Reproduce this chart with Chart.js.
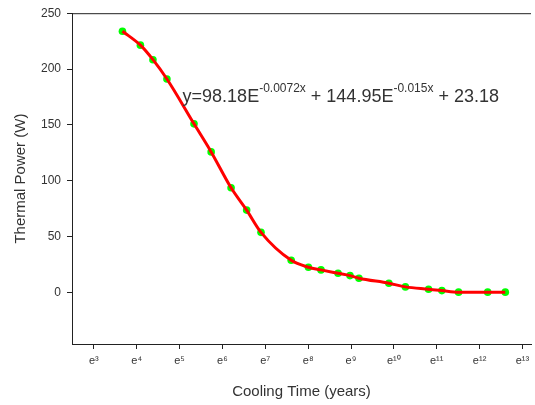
<!DOCTYPE html>
<html><head><meta charset="utf-8">
<script src="https://cdn.jsdelivr.net/npm/chart.js@4.4.0/dist/chart.umd.min.js"></script>
<style>html,body{margin:0;padding:0;background:#fff;} #wrap{width:535px;height:405px;position:relative;}</style>
</head><body><div id="wrap"><canvas id="c" width="535" height="405"></canvas></div>
<script>
// Cooling time as natural-log exponent (t = e^x years)
const coolingTimeExp = [3.667,4.086,4.379,4.705,5.337,5.737,6.202,6.565,6.9,7.605,8.007,8.3,8.698,8.977,9.186,9.884,10.27,10.81,11.12,11.51,12.19,12.6];
const thermalPower = [233.9,221.4,208.4,191.1,151.0,125.9,93.8,73.8,53.9,28.9,22.7,20.3,17.3,15.2,12.9,8.4,5.1,3.0,1.8,0.4,0.4,0.4];
const xTickExps = [3,4,5,6,7,8,9,10,11,12,13];
const xTickLabels = ['e³','e⁴','e⁵','e⁶','e⁷','e⁸','e⁹','e¹⁰','e¹¹','e¹²','e¹³'];
const yTickValues = [0,50,100,150,200,250];
const fitLabelParts = [
  ['y=98.18E', false], ['-0.0072x', true], [' + 144.95E', false], ['-0.015x', true], [' + 23.18', false]
];
const fitLabelAnchor = {x: 5.07, y: 170.5};

const FONT = "'Liberation Sans', Arial, sans-serif";
const AXIS = '#222';
const TEXT = '#333';

const pts = coolingTimeExp.map((x, i) => ({x: x, y: thermalPower[i]}));

const extras = {
  id: 'extras',
  afterDraw(chart) {
    const ctx = chart.ctx;
    const a = chart.chartArea;
    ctx.save();
    ctx.strokeStyle = AXIS;
    ctx.lineWidth = 1;
    ctx.beginPath();
    ctx.moveTo(a.left, a.top + 0.5);
    ctx.lineTo(a.right, a.top + 0.5);
    ctx.stroke();
    const xs = chart.scales.x, ys = chart.scales.y;
    let px = xs.getPixelForValue(fitLabelAnchor.x);
    const py = ys.getPixelForValue(fitLabelAnchor.y);
    ctx.fillStyle = TEXT;
    ctx.textBaseline = 'alphabetic';
    ctx.textAlign = 'left';
    for (const [txt, sup] of fitLabelParts) {
      ctx.font = (sup ? '12px ' : '18px ') + FONT;
      ctx.fillText(txt, px, sup ? py - 10 : py);
      px += ctx.measureText(txt).width;
    }
    ctx.restore();
  }
};

new Chart(document.getElementById('c'), {
  type: 'scatter',
  data: {
    datasets: [
      {
        label: 'fit',
        data: pts,
        showLine: true,
        borderColor: '#ff0000',
        borderWidth: 3,
        pointRadius: 0,
        cubicInterpolationMode: 'monotone',
        fill: false
      },
      {
        label: 'data',
        data: pts,
        showLine: false,
        pointRadius: 3.8,
        pointBackgroundColor: '#00ff00',
        pointBorderColor: '#00ff00',
        pointBorderWidth: 0
      }
    ]
  },
  options: {
    responsive: false,
    animation: false,
    devicePixelRatio: 1,
    layout: {padding: {left: 0, top: 12, right: 2, bottom: 0}},
    plugins: {legend: {display: false}, tooltip: {enabled: false}},
    scales: {
      x: {
        type: 'linear',
        min: 2.49,
        max: 13.2,
        afterBuildTicks: (axis) => { axis.ticks = xTickExps.map(v => ({value: v})); },
        afterFit: (axis) => { axis.height = 61; },
        grid: {display: true, drawOnChartArea: false, drawTicks: true, tickLength: 5, color: AXIS},
        border: {display: true, color: AXIS, width: 1},
        ticks: {
          autoSkip: false, maxRotation: 0, padding: 5, color: TEXT,
          font: {family: FONT, size: 11},
          callback: (v) => { const i = xTickExps.indexOf(v); return i >= 0 ? xTickLabels[i] : ''; }
        },
        title: {display: true, text: 'Cooling Time (years)', color: TEXT,
          font: {family: FONT, size: 15}, padding: {top: 0, bottom: 4}}
      },
      y: {
        type: 'linear',
        min: -46,
        max: 250,
        afterBuildTicks: (axis) => { axis.ticks = yTickValues.map(v => ({value: v})); },
        afterFit: (axis) => { axis.width = 72; },
        grid: {display: true, drawOnChartArea: false, drawTicks: true, tickLength: 5, color: AXIS},
        border: {display: true, color: AXIS, width: 1},
        ticks: {autoSkip: false, padding: 6, color: TEXT, font: {family: FONT, size: 12}},
        title: {display: true, text: 'Thermal Power (W)', color: TEXT,
          font: {family: FONT, size: 15}, padding: {top: 12, bottom: 0}}
      }
    }
  },
  plugins: [extras]
});
</script>
</body></html>
